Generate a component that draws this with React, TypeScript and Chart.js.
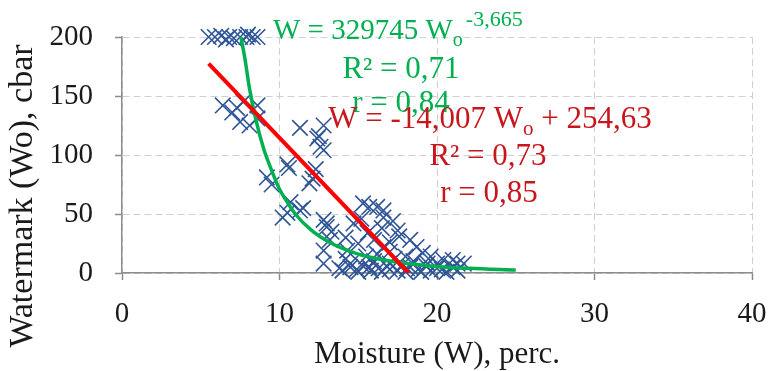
import React, { useEffect, useRef } from 'react';
import { Chart, registerables } from 'chart.js';

Chart.register(...registerables);

// ---- data ----
const xTitle = 'Moisture (W), perc.';
const yTitle = 'Watermark (Wo), cbar';
const xTickValues = [0, 10, 20, 30, 40];
const yTickValues = [0, 50, 100, 150, 200];

const moistureX = [
  5.5, 5.9, 6.3, 6.6, 6.8, 7.1, 7.5, 7.9, 8.0, 8.3, 8.6,
  6.4, 7.0, 7.3, 7.7, 7.5, 8.1, 8.6, 8.6,
  11.3, 12.4, 12.5, 12.8, 12.6, 12.8, 9.2, 9.5, 10.5, 10.6, 11.9, 12.1, 12.3, 10.7, 10.2, 10.5, 11.3, 11.5, 12.8, 13.0, 13.3, 13.2, 12.8, 12.8,
  15.3, 15.7, 16.2, 16.6, 16.6, 14.7, 13.0, 15.2, 15.6, 16.5, 17.2, 17.5, 17.6, 18.3, 18.7, 16.6, 19.1, 19.6, 14.3, 14.2, 15.0, 16.0, 17.0, 14.2, 15.5, 16.2, 17.0, 18.0, 17.3, 16.0, 18.5, 20.4, 21.0,
  13.8, 14.0, 14.5, 14.5, 14.9, 15.0, 15.3, 15.7, 15.8, 16.3, 16.5, 16.8, 17.0, 17.0, 17.5, 17.8, 18.0, 18.1, 18.3, 18.8, 19.0, 19.3, 19.4, 19.6, 20.0, 20.0, 20.3, 20.6, 21.0, 21.3, 21.3, 21.7,
];
const watermarkY = [
  200, 200, 201, 198, 200, 199, 200, 200, 202, 200, 200,
  142, 136, 140, 145, 128, 125, 142, 131,
  123, 114, 116, 125, 107, 104, 81, 75, 92, 89, 76, 80, 88, 60, 47, 51, 53, 55, 45, 39, 35, 28, 19, 8,
  59, 56, 56, 53, 47, 42, 42, 46, 34, 38, 44, 36, 31, 28, 22, 22, 17, 14, 19, 30, 25, 28, 26, 12, 14, 16, 18, 14, 12, 10, 10, 11, 11,
  4, 2, 8, 5, 3, 1, 6, 5, 2, 4, 1, 6, 8, 3, 2, 7, 1, 4, 5, 3, 1, 6, 8, 2, 8, 4, 3, 1, 5, 8, 2, 8,
];

// power trend line W = 329745 Wo^-3,665
const powerFitX = [7.55, 7.8, 8.1, 8.5, 9, 9.5, 10, 10.5, 11, 12, 13, 14, 15, 16, 17, 18, 20, 22, 25];
const powerFitY = [200, 182, 156, 130, 105, 87, 71, 60, 50, 36.5, 27.3, 20.8, 16, 12.7, 10.2, 8.3, 5.6, 4, 2.5];

// linear trend line W = -14,007 Wo + 254,63 (end points)
const linearFitX = [5.5, 18.2];
const linearFitY = [177.5, 0];

const greenLines = ['W = 329745 W', 'o', '-3,665', 'R² = 0,71', 'r = 0,84'];
const redLines = ['W = -14,007 W', 'o', ' + 254,63', 'R² = 0,73', 'r = 0,85'];

const FONT = '"Liberation Serif", "Times New Roman", serif';
const GREEN = '#00B050';
const RED_LINE = '#FF0000';
const RED_TEXT = '#C8161D';
const BLUE = '#2F5597';

type Run = { t: string; s: number; dy?: number; gap?: number };

function drawRuns(ctx: CanvasRenderingContext2D, runs: Run[], x: number, y: number, align: 'left' | 'center') {
  const widths = runs.map((r) => {
    ctx.font = `${r.s}px ${FONT}`;
    return ctx.measureText(r.t).width + (r.gap || 0);
  });
  const total = widths.reduce((a, b) => a + b, 0);
  let cx = align === 'center' ? x - total / 2 : x;
  ctx.textAlign = 'left';
  ctx.textBaseline = 'alphabetic';
  runs.forEach((r, i) => {
    ctx.font = `${r.s}px ${FONT}`;
    ctx.fillText(r.t, cx + (r.gap || 0), y + (r.dy || 0));
    cx += widths[i];
  });
}

const textPlugin = {
  id: 'textPlugin',
  afterDraw(chart: any) {
    const { ctx, chartArea } = chart;
    ctx.save();
    // axis titles
    ctx.fillStyle = '#1a1a1a';
    ctx.font = `31px ${FONT}`;
    ctx.textAlign = 'center';
    ctx.textBaseline = 'alphabetic';
    ctx.fillText(xTitle, (chartArea.left + chartArea.right) / 2, 363);
    ctx.save();
    ctx.translate(32, 196);
    ctx.rotate(-Math.PI / 2);
    ctx.font = `34px ${FONT}`;
    ctx.fillText(yTitle, 0, 0);
    ctx.restore();

    // green power equation
    ctx.fillStyle = GREEN;
    drawRuns(ctx, [
      { t: greenLines[0], s: 29 },
      { t: greenLines[1], s: 20, dy: 7 },
      { t: greenLines[2], s: 22, dy: -13, gap: 3 },
    ], 273, 39, 'left');
    drawRuns(ctx, [{ t: greenLines[3], s: 31 }], 401, 78, 'center');
    drawRuns(ctx, [{ t: greenLines[4], s: 31 }], 401, 112, 'center');

    // red linear equation
    ctx.fillStyle = RED_TEXT;
    drawRuns(ctx, [
      { t: redLines[0], s: 31 },
      { t: redLines[1], s: 21, dy: 7 },
      { t: redLines[2], s: 31 },
    ], 490, 128, 'center');
    drawRuns(ctx, [{ t: redLines[3], s: 31 }], 488, 165, 'center');
    drawRuns(ctx, [{ t: redLines[4], s: 31 }], 489, 202, 'center');
    ctx.restore();
  },
};

export default function App() {
  const ref = useRef<HTMLCanvasElement | null>(null);

  useEffect(() => {
    document.body.style.margin = '0';
    const canvas = ref.current;
    if (!canvas) return;
    const scatterData = moistureX.map((x, i) => ({ x, y: watermarkY[i] }));
    const powerData = powerFitX.map((x, i) => ({ x, y: powerFitY[i] }));
    const linearData = linearFitX.map((x, i) => ({ x, y: linearFitY[i] }));

    const chart = new Chart(canvas, {
      type: 'scatter',
      data: {
        datasets: [
          {
            label: 'data',
            data: scatterData,
            pointStyle: 'crossRot',
            pointRadius: 11,
            pointBorderWidth: 1.6,
            borderColor: BLUE,
            backgroundColor: BLUE,
            showLine: false,
            clip: false,
            order: 3,
          } as any,
          {
            label: 'linear',
            data: linearData,
            showLine: true,
            borderColor: RED_LINE,
            borderWidth: 4,
            pointRadius: 0,
            order: 1,
          } as any,
          {
            label: 'power',
            data: powerData,
            showLine: true,
            borderColor: GREEN,
            borderWidth: 3.5,
            pointRadius: 0,
            cubicInterpolationMode: 'monotone',
            order: 2,
          } as any,
        ],
      },
      options: {
        animation: false,
        responsive: false,
        devicePixelRatio: 1,
        layout: { autoPadding: false, padding: { top: 37, right: 17, left: 0, bottom: 0 } },
        plugins: { legend: { display: false }, tooltip: { enabled: false } },
        scales: {
          x: {
            type: 'linear',
            min: xTickValues[0],
            max: xTickValues[xTickValues.length - 1],
            afterBuildTicks: (s: any) => { s.ticks = xTickValues.map((v) => ({ value: v })); },
            afterFit: (s: any) => { s.height = 98; s.paddingLeft = 0; s.paddingRight = 0; },
            ticks: { font: { family: FONT, size: 29 }, color: '#1a1a1a', padding: 17, maxRotation: 0 },
            grid: { color: '#D0D0D0', tickColor: '#8C8C8C', tickLength: 7, lineWidth: 1, tickWidth: 1.5 },
            border: { color: '#8C8C8C', width: 1.5, dash: [7, 4] },
          },
          y: {
            type: 'linear',
            min: yTickValues[0],
            max: yTickValues[yTickValues.length - 1],
            afterBuildTicks: (s: any) => { s.ticks = yTickValues.map((v) => ({ value: v })); },
            afterFit: (s: any) => { s.width = 122; s.paddingTop = 0; s.paddingBottom = 0; },
            ticks: { font: { family: FONT, size: 29 }, color: '#1a1a1a', padding: 22 },
            grid: { color: '#D0D0D0', tickColor: '#8C8C8C', tickLength: 7, lineWidth: 1, tickWidth: 1.5 },
            border: { color: '#8C8C8C', width: 1.5, dash: [7, 4] },
          },
        },
      },
      plugins: [textPlugin],
    } as any);
    return () => chart.destroy();
  }, []);

  return (
    <div style={{ width: 769, height: 371 }}>
      <canvas ref={ref} width={769} height={371} style={{ display: 'block' }} />
    </div>
  );
}
